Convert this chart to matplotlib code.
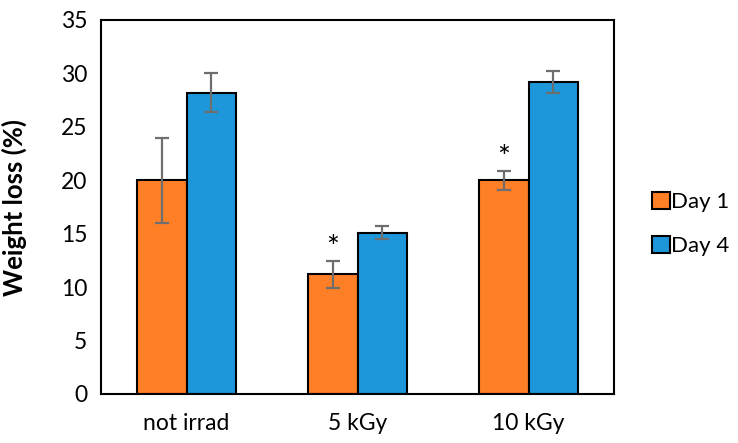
import matplotlib
matplotlib.use("Agg")
import matplotlib.pyplot as plt
import numpy as np

plt.rcParams['font.family'] = ['Lato', 'DejaVu Sans']

categories = ["not irrad", "5 kGy", "10 kGy"]
day1 = [20.0, 11.2, 20.0]
day1_err = [4.0, 1.25, 0.9]
day4 = [28.2, 15.1, 29.2]
day4_err = [1.85, 0.6, 1.05]
signif_day1 = [False, True, True]
yticks = [0, 5, 10, 15, 20, 25, 30, 35]

orange = "#FF7F27"
blue = "#1E97DA"
errc = "#6E6E6E"

fig = plt.figure(figsize=(7.38, 4.43), dpi=100)
ax = fig.add_axes([101/738, 1-394/443, 513/738, 374/443])

x = np.arange(len(categories))
w = 0.29
ekw = dict(ecolor=errc, elinewidth=1.6, capsize=5, capthick=1.6)
b1 = ax.bar(x - w/2, day1, w, color=orange, edgecolor="black", linewidth=1.5,
            yerr=day1_err, error_kw=ekw, label="Day 1")
b2 = ax.bar(x + w/2, day4, w, color=blue, edgecolor="black", linewidth=1.5,
            yerr=day4_err, error_kw=ekw, label="Day 4")

for xi, v, e, s in zip(x, day1, day1_err, signif_day1):
    if s:
        ax.text(xi - w/2, v + e - 0.1, "*", ha="center", va="bottom", fontsize=22)

ax.set_xlim(-0.5, 2.5)
ax.set_ylim(0, 35)
ax.set_yticks(yticks)
ax.set_xticks(x)
ax.set_xticklabels(categories)
ax.tick_params(axis="both", length=0, labelsize=16.5)
ax.tick_params(axis="y", pad=10)
ax.tick_params(axis="x", pad=14)
for sp in ax.spines.values():
    sp.set_linewidth(1.5)
    sp.set_color("black")
ax.set_ylabel("Weight loss (%)", fontsize=18.5, fontweight="bold")
ax.yaxis.set_label_coords(-(101 - 27) / 513, 0.5)

leg = fig.legend(handles=[b1, b2], labels=["Day 1", "Day 4"], loc="center left",
                 bbox_to_anchor=(652/738, 1-224/443), frameon=False, fontsize=16,
                 handlelength=0.8, handleheight=0.8, handletextpad=0.05, labelspacing=1.1,
                 borderaxespad=0, borderpad=0)

fig.savefig("out.png", dpi=100)
